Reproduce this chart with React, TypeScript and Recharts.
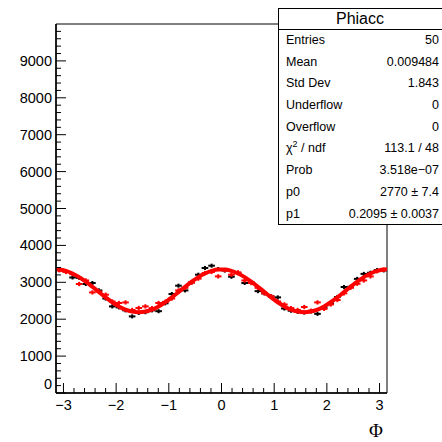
import { ComposedChart, XAxis, YAxis, Scatter, Line, ErrorBar, ReferenceArea } from 'recharts'

const PI = Math.PI
const NBINS = 50
const BIN_HALF = PI / NBINS

// bin centres of the 50-bin histogram over [-pi, pi]
const binCenters = Array.from({ length: NBINS }, (_, i) => -PI + (i + 0.5) * 2 * BIN_HALF)

// black histogram (data points)
const blackCounts = [
  3330, 3290, 3130, 3120, 2954, 2981, 2780, 2560, 2347, 2320,
  2240, 2076, 2170, 2190, 2240, 2217, 2430, 2683, 2908, 2780,
  3000, 3206, 3388, 3450, 3360, 3320, 3150, 3250, 2981, 3000,
  2760, 2700, 2618, 2591, 2290, 2230, 2200, 2180, 2210, 2145,
  2300, 2430, 2600, 2873, 2880, 3093, 3228, 3260, 3330, 3322,
]
const BLACK_ERR = 55

// red histogram
const redCounts = [
  3330, 3280, 3220, 2954, 3050, 2726, 2750, 2664, 2480, 2439,
  2455, 2250, 2304, 2347, 2300, 2439, 2470, 2560, 2780, 2850,
  2990, 3100, 3250, 3280, 3160, 3330, 3206, 3270, 3050, 2981,
  2850, 2700, 2620, 2480, 2400, 2300, 2250, 2330, 2230, 2455,
  2280, 2400, 2520, 2700, 2850, 2960, 3051, 3160, 3300, 3340,
]
const RED_ERR = 58

// fit curve sampled at -pi, the bin centres and +pi
const fitValues = [
  3351,
  3346, 3310, 3239, 3140, 3017, 2879, 2734, 2591, 2459, 2347,
  2261, 2208, 2190, 2208, 2261, 2347, 2459, 2591, 2734, 2879,
  3017, 3140, 3239, 3310, 3346,
  3346, 3310, 3239, 3140, 3017, 2879, 2734, 2591, 2459, 2347,
  2261, 2208, 2190, 2208, 2261, 2347, 2459, 2591, 2734, 2879,
  3017, 3140, 3239, 3310, 3346,
  3351,
]
const fitX = [-PI, ...binCenters, PI]

const xTicks = Array.from({ length: 31 }, (_, i) => (i - 15) / 5)
const yTicks = Array.from({ length: 50 }, (_, i) => i * 200)

const statsRows: [string, string][] = [
  ['Entries', '50'],
  ['Mean', '0.009484'],
  ['Std Dev', '1.843'],
  ['Underflow', '0'],
  ['Overflow', '0'],
  ['χ2 / ndf', '113.1 / 48'],
  ['Prob', '3.518e\u221207'],
  ['p0', '2770 ± 7.4'],
  ['p1', '0.2095 ± 0.0037'],
]

const blackData = binCenters.map((x, i) => ({ x, y: blackCounts[i], ex: BIN_HALF, ey: BLACK_ERR }))
const redData = binCenters.map((x, i) => ({ x, y: redCounts[i], ex: BIN_HALF, ey: RED_ERR }))
const fitData = fitX.map((x, i) => ({ x, y: fitValues[i] }))

const FONT = '"Liberation Sans", Arial, sans-serif'

const fmtX = (v: number) => (v < 0 ? '\u2212' + Math.abs(v) : String(v))

function XTick(props: any) {
  const { x, y, payload } = props
  const v = payload.value
  const major = Math.abs(v - Math.round(v)) < 1e-6
  return (
    <g>
      <line x1={x} x2={x} y1={y} y2={y - (major ? 10 : 5)} stroke="#000" />
      {major && (
        <text x={x} y={y + 17} textAnchor="middle" fontSize={14.5} fill="#000" fontFamily={FONT}>
          {fmtX(Math.round(v))}
        </text>
      )}
    </g>
  )
}

function YTick(props: any) {
  const { x, y, payload } = props
  const v = payload.value
  const major = v % 1000 === 0
  return (
    <g>
      <line x1={x} x2={x + (major ? 10 : 5)} y1={y} y2={y} stroke="#000" />
      {major && (
        <text x={x - 4} y={v === 0 ? y - 9 : y} dy="0.35em" textAnchor="end" fontSize={14.5} fill="#000" fontFamily={FONT}>
          {v}
        </text>
      )}
    </g>
  )
}

const noShape = () => <g />

export default function App() {
  return (
    <div style={{ position: 'absolute', left: 0, top: 0, width: 442, height: 442, background: '#fff', overflow: 'hidden' }}>
      <ComposedChart width={442} height={442} margin={{ top: 24, right: 55, bottom: 0, left: 0 }}>
        <XAxis
          type="number"
          dataKey="x"
          domain={[-PI, PI]}
          allowDataOverflow
          ticks={xTicks}
          interval={0}
          height={49}
          tickSize={0}
          tickMargin={0}
          tickLine={false}
          axisLine={{ stroke: '#000', strokeWidth: 1.5 }}
          tick={XTick}
        />
        <YAxis
          type="number"
          dataKey="y"
          domain={[0, 10000]}
          allowDataOverflow
          ticks={yTicks}
          interval={0}
          width={56}
          tickSize={0}
          tickMargin={0}
          tickLine={false}
          axisLine={{ stroke: '#000', strokeWidth: 1.5 }}
          tick={YTick}
        />
        <ReferenceArea x1={-PI} x2={PI} y1={0} y2={10000} fill="none" stroke="#000" strokeWidth={1} />
        <Scatter data={blackData} dataKey="y" shape={noShape} isAnimationActive={false}>
          <ErrorBar dataKey="ex" direction="x" width={0} stroke="#000" strokeWidth={2} />
          <ErrorBar dataKey="ey" direction="y" width={0} stroke="#000" strokeWidth={2} />
        </Scatter>
        <Scatter data={redData} dataKey="y" shape={noShape} isAnimationActive={false}>
          <ErrorBar dataKey="ex" direction="x" width={0} stroke="#ff0000" strokeWidth={2} />
          <ErrorBar dataKey="ey" direction="y" width={0} stroke="#ff0000" strokeWidth={2} />
        </Scatter>
        <Line data={fitData} dataKey="y" type="monotone" stroke="#ff0000" strokeWidth={4} dot={false} isAnimationActive={false} />
      </ComposedChart>

      <div style={{ position: 'absolute', left: 369, top: 420, fontFamily: '"Liberation Serif", "DejaVu Serif", serif', fontSize: 19, color: '#000' }}>Φ</div>

      <div
        style={{
          position: 'absolute',
          left: 278,
          top: 8,
          width: 166,
          height: 217,
          boxSizing: 'border-box',
          border: '1px solid #000',
          background: '#fff',
          fontFamily: FONT,
          color: '#000',
        }}
      >
        <div style={{ height: 20, lineHeight: '20px', borderBottom: '1px solid #000', textAlign: 'center', fontSize: 16, paddingRight: 2 }}>
          Phiacc
        </div>
        {statsRows.map(([k, v]) => (
          <div key={k} style={{ display: 'flex', justifyContent: 'space-between', height: 21.7, lineHeight: '21.7px', fontSize: 12.5, padding: '0 4px 0 7px' }}>
            <span>{k === 'χ2 / ndf' ? <>χ<sup style={{ fontSize: 9, lineHeight: 0 }}>2</sup> / ndf</> : k}</span>
            <span>{v}</span>
          </div>
        ))}
      </div>
    </div>
  )
}
